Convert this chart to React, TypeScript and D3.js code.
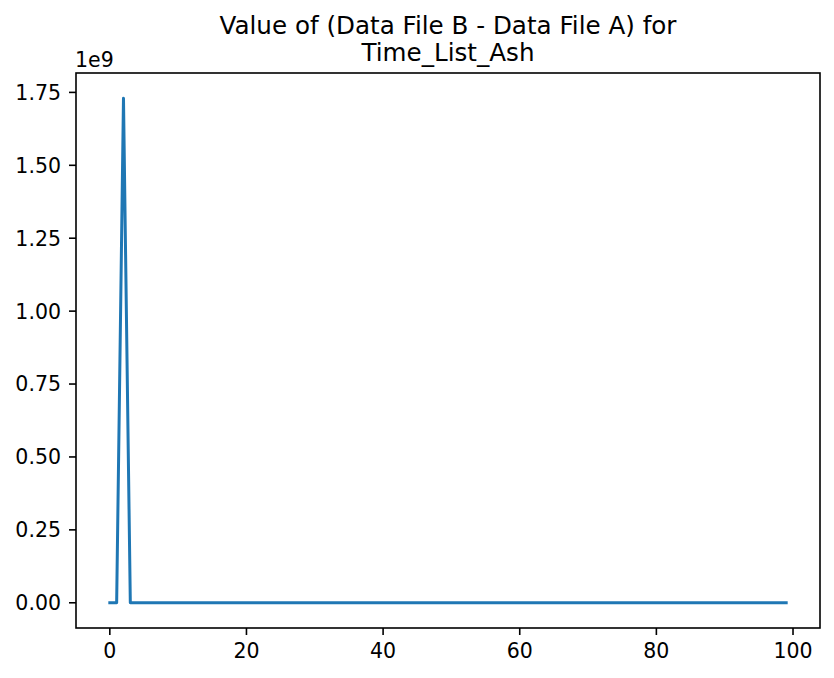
import React from "react";
import * as d3 from "d3";

const titleLines = ["Value of (Data File B - Data File A) for", "Time_List_Ash"];
const values: number[] = [
  0, 0, 1.73e9, 0, 0, 0, 0, 0, 0, 0,
  0, 0, 0, 0, 0, 0, 0, 0, 0, 0,
  0, 0, 0, 0, 0, 0, 0, 0, 0, 0,
  0, 0, 0, 0, 0, 0, 0, 0, 0, 0,
  0, 0, 0, 0, 0, 0, 0, 0, 0, 0,
  0, 0, 0, 0, 0, 0, 0, 0, 0, 0,
  0, 0, 0, 0, 0, 0, 0, 0, 0, 0,
  0, 0, 0, 0, 0, 0, 0, 0, 0, 0,
  0, 0, 0, 0, 0, 0, 0, 0, 0, 0,
  0, 0, 0, 0, 0, 0, 0, 0, 0, 0,
];
const xTicks = [0, 20, 40, 60, 80, 100];
const yTicks = [0, 0.25, 0.5, 0.75, 1.0, 1.25, 1.5, 1.75];
const yScaleExp = "1e9";

const W = 834;
const H = 678;
const L = 76, R = 820, T = 73, B = 628;
const FONT = "DejaVu Sans, sans-serif";

export default function App() {
  const n = values.length;
  const xMin = 0, xMax = n - 1;
  const xPad = (xMax - xMin) * 0.05;
  const yMaxV = d3.max(values)! / 1e9;
  const yMinV = d3.min(values)! / 1e9;
  const yPad = (yMaxV - yMinV) * 0.05;
  const x = d3.scaleLinear().domain([xMin - xPad, xMax + xPad]).range([L, R]);
  const y = d3.scaleLinear().domain([yMinV - yPad, yMaxV + yPad]).range([B, T]);
  const line = d3
    .line<number>()
    .x((_, i) => x(i))
    .y((d) => y(d / 1e9));
  const tickLen = 7;
  return (
    <svg
      width={W}
      height={H}
      style={{ position: "absolute", left: 0, top: 0, background: "#fff" }}
      fontFamily={FONT}
    >
      <rect x={0} y={0} width={W} height={H} fill="#fff" />
      {titleLines.map((t, i) => (
        <text key={i} x={(L + R) / 2} y={34.3 + i * 26.7} textAnchor="middle" fontSize={24.6} fill="#000">
          {t}
        </text>
      ))}
      <path d={line(values)!} fill="none" stroke="#1f77b4" strokeWidth={3} strokeLinejoin="round" strokeLinecap="square" />
      {xTicks.map((t) => (
        <g key={t}>
          <line x1={x(t)} x2={x(t)} y1={B} y2={B + tickLen} stroke="#000" strokeWidth={1.6} />
          <text x={x(t)} y={658.3} textAnchor="middle" fontSize={20.5} fill="#000">
            {t}
          </text>
        </g>
      ))}
      {yTicks.map((t) => (
        <g key={t}>
          <line x1={L - tickLen} x2={L} y1={y(t)} y2={y(t)} stroke="#000" strokeWidth={1.6} />
          <text x={L - tickLen - 8} y={y(t) + 7.4} textAnchor="end" fontSize={20.5} fill="#000">
            {t.toFixed(2)}
          </text>
        </g>
      ))}
      <text x={L - 1} y={67.3} fontSize={20.5} fill="#000">
        {yScaleExp}
      </text>
      <rect x={L} y={T} width={R - L} height={B - T} fill="none" stroke="#000" strokeWidth={1.6} />
    </svg>
  );
}
